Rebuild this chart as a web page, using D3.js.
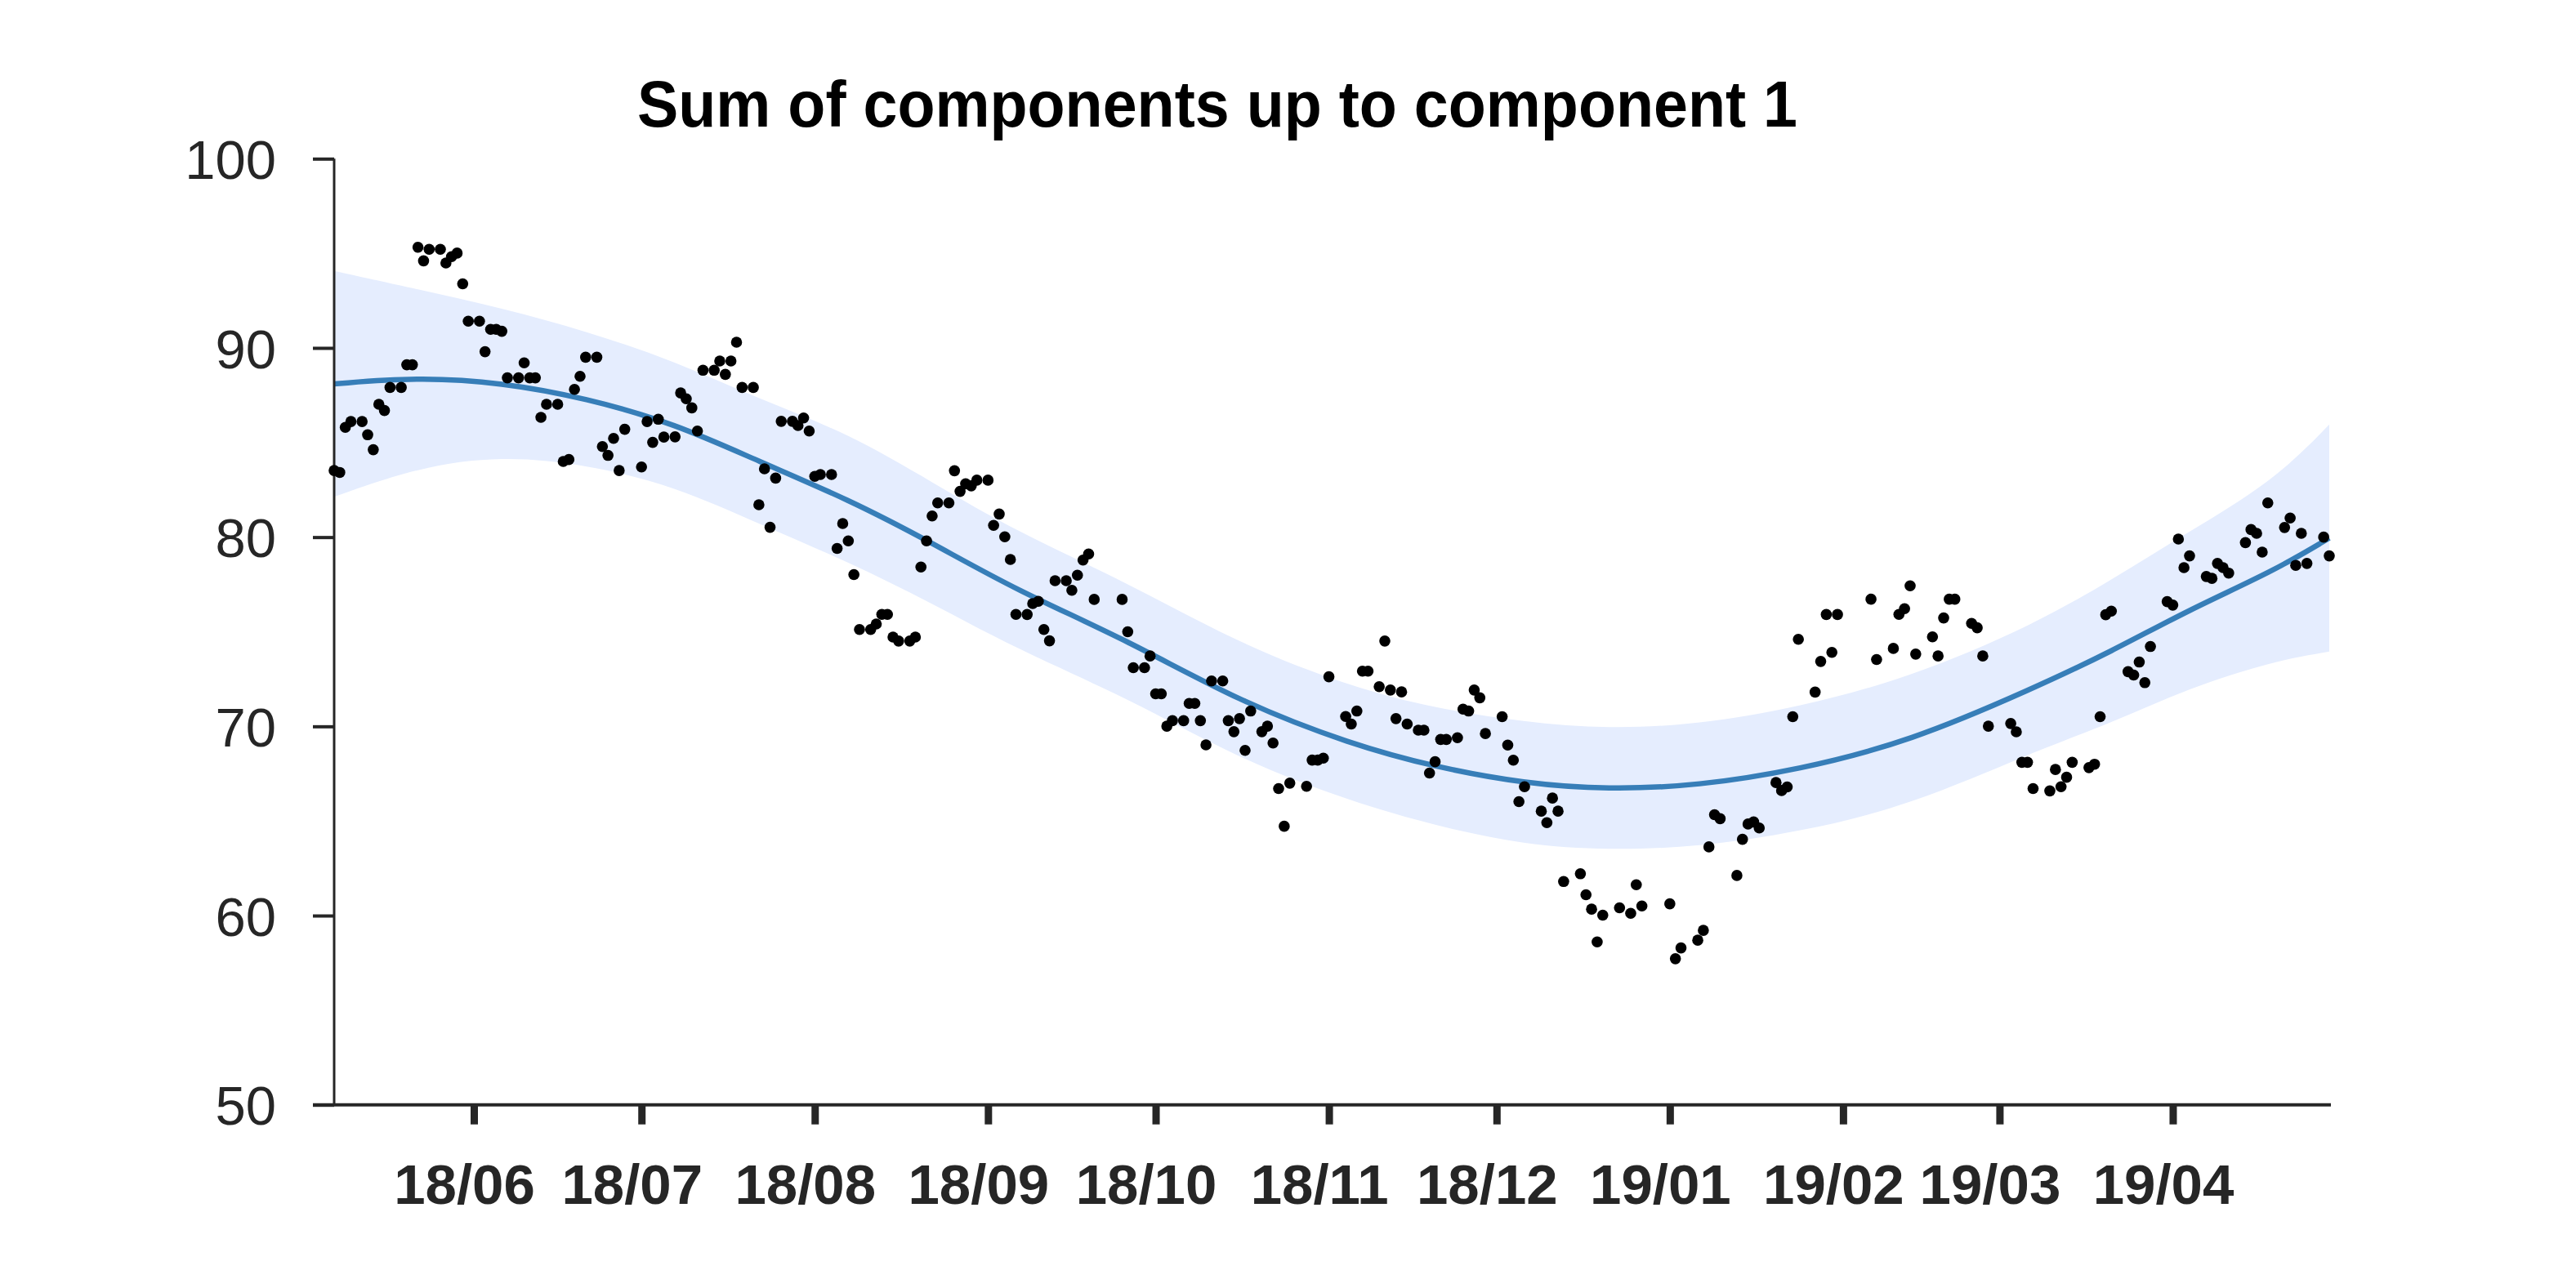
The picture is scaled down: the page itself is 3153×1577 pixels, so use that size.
<!DOCTYPE html>
<html>
<head>
<meta charset="utf-8">
<script src="https://cdn.jsdelivr.net/npm/d3@7"></script>
<style>
  html, body { margin: 0; padding: 0; background: #ffffff; }
  svg { display: block; }
</style>
</head>
<body>
<svg id="chart" width="3153" height="1577"></svg>
<script>
// ---------------- DATA ----------------
const titleText = "Sum of components up to component 1";
const startDate = "2018-05-07";               // day 0 of the observation offsets
const endDay = 357;                            // last observation day (2019-04-29)
const yTicks = [50, 60, 70, 80, 90, 100];
const xTickMonths = ["2018-06-01","2018-07-01","2018-08-01","2018-09-01","2018-10-01","2018-11-01",
                     "2018-12-01","2019-01-01","2019-02-01","2019-03-01","2019-04-01"];

// observations: day offset from startDate, and observed value
const obsDay = [
  0,1,2,3,5,6,7,8,9,10,12,13,14,15,16,17,19,20,21,22,23,24,26,27,28,29,30,31,33,34,35,36,37,38,40,41,42,43,44,45,47,
  48,49,50,51,52,55,56,57,58,59,61,62,63,64,65,66,68,69,70,71,72,73,75,76,77,78,79,80,82,83,84,85,86,87,89,90,91,92,
  93,94,96,97,98,99,100,101,103,104,105,106,107,108,110,111,112,113,114,115,117,118,119,120,121,122,124,125,126,127,
  128,129,131,132,133,134,135,136,141,142,143,145,146,147,148,149,150,152,153,154,155,156,157,159,160,161,162,163,164,
  166,167,168,169,170,171,174,175,176,177,178,181,182,183,184,185,187,188,189,190,191,192,194,195,196,197,198,199,201,
  202,203,204,205,206,209,210,211,212,213,216,217,218,219,220,223,224,225,226,227,230,232,233,234,239,240,241,244,245,
  246,247,248,251,252,253,254,255,258,259,260,261,262,265,266,267,268,269,275,276,279,280,281,282,283,286,287,288,289,
  290,293,294,295,296,300,301,302,303,304,307,308,309,310,311,314,315,316,317,318,321,322,323,324,325,328,329,330,331,
  332,335,336,337,338,339,342,343,344,345,346,349,350,351,352,353,356,357
];
const obsValue = [
  83.52,83.42,85.80,86.11,86.11,85.41,84.62,87.02,86.69,87.91,87.91,89.11,89.11,95.32,94.60,95.21,95.21,94.49,94.82,95.01,
  93.39,91.41,91.41,89.80,90.98,90.98,90.88,88.42,88.42,89.21,88.42,88.42,86.33,87.02,87.02,84.00,84.10,87.81,88.50,89.51,
  89.51,84.79,84.32,85.22,83.52,85.70,83.71,86.11,85.01,86.23,85.29,85.30,87.62,87.31,86.83,85.61,88.82,88.82,89.31,88.60,
  89.31,90.30,87.91,87.91,81.71,83.61,80.52,83.12,86.12,86.12,85.90,86.30,85.61,83.21,83.31,83.31,79.40,80.72,79.80,78.02,
  75.12,75.12,75.41,75.92,75.92,74.72,74.51,74.51,74.72,78.42,79.80,81.12,81.81,81.81,83.51,82.42,82.82,82.71,83.01,83.01,
  80.62,81.22,80.02,78.82,75.92,75.91,76.49,76.61,75.12,74.52,77.70,77.70,77.19,77.99,78.79,79.11,76.71,76.71,75.00,73.10,
  73.10,73.72,71.72,71.72,70.01,70.30,70.30,71.21,71.21,70.30,69.02,72.40,72.40,70.30,69.72,70.41,68.73,70.81,69.72,70.01,
  69.12,66.71,64.72,67.00,66.83,68.22,68.22,68.32,72.62,70.52,70.12,70.81,72.92,72.92,72.10,74.51,71.92,70.41,71.82,70.12,
  69.80,69.80,67.53,68.13,69.31,69.31,69.40,70.91,70.81,71.92,71.51,69.62,70.51,69.01,68.21,66.02,66.81,65.52,64.91,66.21,
  65.52,61.80,62.21,61.10,60.34,58.61,60.02,60.41,60.12,61.63,60.51,60.62,57.72,58.29,58.70,59.22,63.63,65.33,65.12,62.12,
  64.03,64.84,64.95,64.63,67.03,66.61,66.80,70.51,74.60,71.81,73.43,75.91,73.91,75.91,76.72,73.53,74.12,75.92,76.22,77.43,
  73.82,74.73,73.72,75.73,76.72,76.72,75.44,75.21,73.72,70.01,70.15,69.71,68.10,68.10,66.71,66.59,67.72,66.81,67.31,68.10,
  67.82,68.00,70.51,75.90,76.09,72.89,72.71,73.40,72.31,74.22,76.59,76.41,79.90,78.39,79.01,77.92,77.82,78.61,78.39,78.10,
  79.71,80.40,80.20,79.21,81.81,80.51,81.01,78.51,80.20,78.61,80.00,79.01
];

// fitted component (mean) and its interval, read at these day offsets
const fitDay   = [0,    15,   30,   45,   61,   76,   92,   107,  122,  142,  162,  182,  197,  213,  228,  244,  262,  282,  304,  318,  332,  347,  357];
const fitMean  = [88.10,88.45,88.17,87.35,86.00,84.00,82.00,79.70,77.20,74.55,71.30,69.05,67.85,66.98,66.66,66.86,67.70,69.20,72.00,73.95,76.18,78.20,79.95];
const fitUpper = [94.07,93.10,92.10,90.90,89.30,87.30,85.50,82.90,80.30,77.60,74.35,72.08,70.95,70.23,69.86,70.10,71.00,72.58,75.35,77.73,80.31,82.95,85.95];
const fitLower = [82.13,83.70,84.30,83.85,82.70,80.70,78.70,76.50,74.10,71.50,68.25,66.02,64.75,63.73,63.46,63.62,64.40,65.82,68.65,70.17,72.05,73.45,73.95];

// ---------------- DRAW ----------------
const svg = d3.select("#chart");
const ink = "#262626";
const DAY = 864e5;
const t0 = d3.utcParse("%Y-%m-%d")(startDate).getTime();
const toDate = d => new Date(t0 + d * DAY);

const x = d3.scaleUtc().domain([toDate(0), toDate(endDay)]).range([409, 2851]);
const y = d3.scaleLinear().domain([50, 100]).range([1352.7, 194.3]);

svg.append("rect").attr("width", 3153).attr("height", 1577).attr("fill", "#ffffff");

// band
const fit = fitDay.map((d, i) => ({ d, m: fitMean[i], lo: fitLower[i], hi: fitUpper[i] }));
svg.append("path")
  .datum(fit)
  .attr("fill", "#e5edfe")
  .attr("stroke", "none")
  .attr("d", d3.area().curve(d3.curveBasis)
    .x(p => x(toDate(p.d))).y0(p => y(p.lo)).y1(p => y(p.hi)));

// mean line
svg.append("path")
  .datum(fit)
  .attr("fill", "none")
  .attr("stroke", "#377eb8")
  .attr("stroke-width", 6.5)
  .attr("d", d3.line().curve(d3.curveBasis).x(p => x(toDate(p.d))).y(p => y(p.m)));

// axes
const yAxis = d3.axisLeft(y).tickValues(yTicks).tickSize(26).tickPadding(45).tickFormat(d3.format("d"));
const gy = svg.append("g").attr("transform", "translate(409,0)").call(yAxis);
gy.select(".domain").remove();
gy.selectAll(".tick line").attr("stroke", ink).attr("stroke-width", 4);
gy.selectAll(".tick text")
  .attr("fill", ink)
  .attr("font-family", "'Liberation Sans', Arial, Helvetica, sans-serif")
  .attr("font-size", 67)
  .attr("dy", "0.36em");

const xTicks = xTickMonths.map(s => d3.utcParse("%Y-%m-%d")(s));
const xAxis = d3.axisBottom(x).tickValues(xTicks).tickSize(24).tickSizeOuter(0).tickFormat(d3.utcFormat("%y/%m"));
const gx = svg.append("g").attr("transform", "translate(0,1352.7)").call(xAxis);
gx.select(".domain").remove();
gx.selectAll(".tick line").attr("stroke", ink).attr("stroke-width", 9);
gx.selectAll(".tick text")
  .attr("fill", ink)
  .attr("font-family", "'Liberation Sans', Arial, Helvetica, sans-serif")
  .attr("font-weight", "bold")
  .attr("font-size", 69)
  .attr("x", -12)
  .attr("y", 121)
  .attr("dy", 0);

// axis lines
svg.append("line").attr("x1", 409).attr("x2", 409).attr("y1", 194.3).attr("y2", 1352.7)
  .attr("stroke", ink).attr("stroke-width", 3);
svg.append("line").attr("x1", 383).attr("x2", 2853).attr("y1", 1352.7).attr("y2", 1352.7)
  .attr("stroke", ink).attr("stroke-width", 4);

// observations
svg.append("g").selectAll("circle")
  .data(obsDay.map((d, i) => ({ d, v: obsValue[i] })))
  .join("circle")
  .attr("cx", p => x(toDate(p.d)))
  .attr("cy", p => y(p.v))
  .attr("r", 6.8)
  .attr("fill", "#000000");

// title
svg.append("text")
  .attr("x", 1490).attr("y", 155)
  .attr("text-anchor", "middle")
  .attr("font-family", "'Liberation Sans', Arial, Helvetica, sans-serif")
  .attr("font-weight", "bold")
  .attr("font-size", 79)
  .attr("fill", "#000000")
  .attr("textLength", 1420)
  .attr("lengthAdjust", "spacingAndGlyphs")
  .text(titleText);
</script>
</body>
</html>
